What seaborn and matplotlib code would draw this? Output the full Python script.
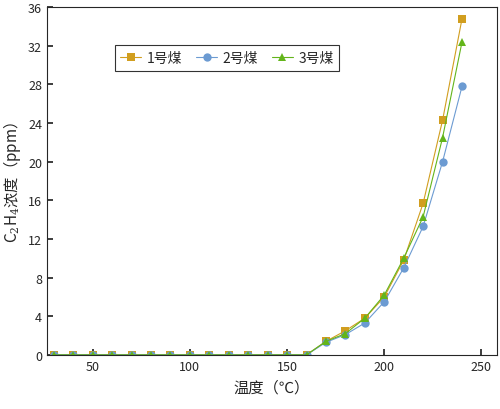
import numpy as np
import pandas as pd
import matplotlib
matplotlib.use("Agg")
import matplotlib.pyplot as plt
import seaborn as sns

# Données
temps = list(range(30, 250, 10))
coal1 = [0]*14 + [1.4, 2.5, 3.8, 6.0, 9.8, 15.7, 24.3, 34.8]
coal2 = [0]*14 + [1.3, 2.1, 3.3, 5.5, 9.0, 13.3, 20.0, 27.8]
coal3 = [0]*14 + [1.4, 2.2, 3.8, 6.2, 10.0, 14.3, 22.5, 32.4]
names = ["1号煤", "2号煤", "3号煤"]
colors = ["#D19E1F", "#6C9BD2", "#63B51A"]
markers = ["s", "o", "^"]

sns.set_theme(style="ticks")
plt.rcParams['font.family'] = ['Noto Sans CJK SC', 'DejaVu Sans']
plt.rcParams['mathtext.fontset'] = 'dejavuserif'

df = pd.DataFrame({"温度": temps * 3,
                   "浓度": coal1 + coal2 + coal3,
                   "煤": sum([[n] * len(temps) for n in names], [])})

fig, ax = plt.subplots(figsize=(5, 4.1), dpi=100)
for n, c, m in zip(names, colors, markers):
    d = df[df["煤"] == n]
    sns.lineplot(data=d, x="温度", y="浓度", ax=ax, color=c, marker=m,
                 markersize=6, markeredgewidth=0, linewidth=0.8, label=n)

ax.set_xlim(26.5, 258)
ax.set_ylim(0, 36)
ax.set_xticks([50, 100, 150, 200, 250])
ax.set_yticks(range(0, 37, 4))
ax.tick_params(direction="in", labelsize=9, length=4)
ax.set_xlabel("温度（℃）", fontsize=11)
ax.set_ylabel("C$_2$H$_4$浓度（ppm）", fontsize=11)
for s in ax.spines.values():
    s.set_linewidth(0.8)
leg = ax.legend(loc="upper center", bbox_to_anchor=(0.4, 0.91), ncol=3,
                fontsize=10, frameon=True, fancybox=False, edgecolor="black",
                handlelength=1.5, columnspacing=1.0, handletextpad=0.4)
leg.get_frame().set_linewidth(0.8)

plt.subplots_adjust(left=0.094, right=0.994, top=0.98, bottom=0.132)
plt.savefig("out.png")
